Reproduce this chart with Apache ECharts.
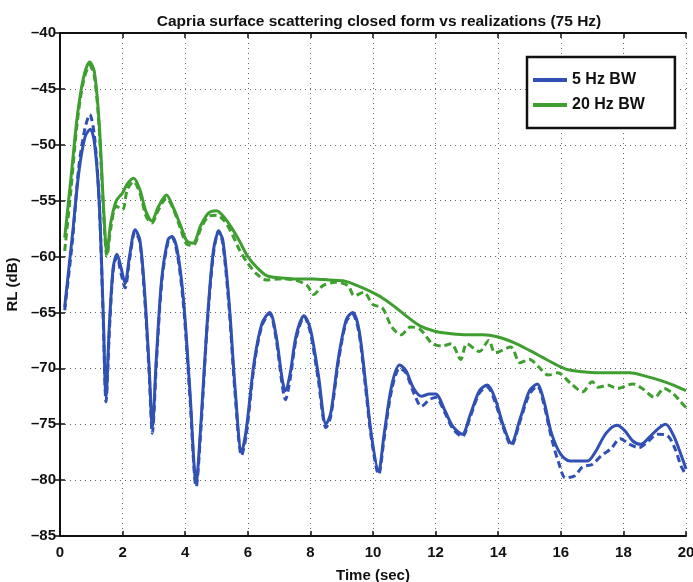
<!DOCTYPE html>
<html>
<head>
<meta charset="utf-8">
<script src="https://cdn.jsdelivr.net/npm/echarts@6/dist/echarts.min.js"></script>
<style>
  html, body { margin: 0; padding: 0; background: #fff; }
  #chart { width: 693px; height: 582px; }
</style>
</head>
<body>
<div id="chart"></div>
<script>
// 数据 - closed form (solid) and realizations (dashed), [time sec, RL dB]
var blueClosed = [[0.15,-64.5],[0.4,-58],[0.6,-52.5],[0.8,-49.3],[0.97,-48.6],[1.1,-49.8],[1.25,-55],[1.38,-65],[1.47,-72.5],[1.58,-66],[1.7,-61],[1.82,-59.8],[1.95,-61],[2.08,-62.4],[2.22,-60],[2.4,-57.6],[2.55,-58.5],[2.7,-63],[2.85,-70],[2.95,-75.2],[3.08,-69],[3.25,-62],[3.45,-58.5],[3.58,-58.2],[3.75,-59.5],[3.95,-64],[4.15,-72],[4.35,-80.2],[4.5,-75],[4.7,-66],[4.9,-59.5],[5.07,-57.8],[5.2,-58.5],[5.4,-64],[5.6,-72],[5.8,-77.5],[5.95,-75.5],[6.2,-69.5],[6.45,-66],[6.7,-65],[6.9,-67],[7.1,-71],[7.2,-72],[7.35,-70.5],[7.55,-67],[7.8,-65.3],[8.0,-66.5],[8.25,-70.5],[8.5,-75],[8.65,-74],[8.9,-69],[9.15,-65.6],[9.35,-65],[9.55,-66.5],[9.75,-71],[9.95,-76],[10.18,-79.2],[10.35,-76],[10.6,-71.5],[10.85,-69.7],[11.05,-70.2],[11.3,-71.8],[11.55,-72.5],[11.8,-72.3],[12.0,-72.3],[12.3,-73.8],[12.55,-75.2],[12.85,-75.9],[13.1,-74.2],[13.4,-72],[13.65,-71.5],[13.9,-72.7],[14.15,-75],[14.42,-76.7],[14.7,-74.5],[15.0,-72],[15.25,-71.4],[15.45,-72.8],[15.7,-75.8],[16.0,-77.7],[16.3,-78.3],[16.85,-78.3],[17.1,-77.5],[17.45,-75.8],[17.8,-75.1],[18.05,-75.6],[18.3,-76.5],[18.55,-76.8],[18.85,-76.1],[19.15,-75.3],[19.35,-75.0],[19.6,-76.0],[19.85,-77.8],[20,-79]];

var blueReal = [[0.15,-64.8],[0.4,-58.5],[0.6,-52],[0.8,-48.5],[0.95,-47.3],[1.1,-49.2],[1.25,-55],[1.38,-65.5],[1.47,-73],[1.58,-66.5],[1.7,-61.2],[1.82,-60],[1.95,-61.5],[2.08,-62.8],[2.22,-60.3],[2.4,-57.8],[2.55,-58.7],[2.7,-63.5],[2.85,-70.5],[2.95,-75.8],[3.08,-69.5],[3.25,-62.3],[3.45,-58.7],[3.58,-58.3],[3.75,-59.8],[3.95,-64.5],[4.15,-72.5],[4.35,-80.6],[4.5,-75.5],[4.7,-66.3],[4.9,-59.8],[5.07,-57.7],[5.2,-58.8],[5.4,-64.5],[5.6,-72.5],[5.8,-77.8],[5.95,-76],[6.2,-69.8],[6.45,-66.2],[6.7,-65.1],[6.9,-67.3],[7.1,-71.5],[7.2,-72.8],[7.35,-71],[7.55,-67.3],[7.8,-65.4],[8.0,-66.8],[8.25,-71],[8.5,-75.3],[8.65,-74.3],[8.9,-69.3],[9.15,-65.8],[9.35,-65.2],[9.55,-66.8],[9.75,-71.4],[9.95,-76.3],[10.18,-79.5],[10.35,-76.4],[10.6,-71.9],[10.85,-70.0],[11.05,-70.4],[11.3,-72.2],[11.55,-73.4],[11.8,-72.8],[12.0,-72.6],[12.3,-74.0],[12.55,-75.4],[12.85,-76.1],[13.1,-74.4],[13.4,-72.2],[13.65,-71.7],[13.9,-73.0],[14.15,-75.2],[14.42,-76.9],[14.7,-74.7],[15.0,-72.3],[15.25,-71.6],[15.45,-73.1],[15.7,-76.2],[15.95,-78.6],[16.15,-79.8],[16.45,-79.6],[16.7,-78.8],[17.0,-78.6],[17.3,-77.8],[17.6,-77.2],[17.9,-76.3],[18.2,-76.8],[18.5,-77.1],[18.8,-76.5],[19.1,-75.9],[19.4,-76.0],[19.65,-77.2],[19.85,-78.8],[20,-79.5]];

var greenClosed = [[0.15,-58.3],[0.35,-53],[0.55,-47.5],[0.75,-44],[0.95,-42.6],[1.1,-43.5],[1.25,-48],[1.4,-56],[1.5,-59.7],[1.62,-57],[1.8,-55],[2.0,-54.3],[2.15,-53.5],[2.35,-53],[2.55,-54],[2.75,-56],[2.93,-56.8],[3.15,-55.5],[3.4,-54.5],[3.6,-55.5],[3.85,-57.2],[4.05,-58.6],[4.25,-58.8],[4.5,-57.2],[4.75,-56.1],[5.0,-55.9],[5.25,-56.5],[5.5,-57.5],[5.75,-58.7],[6.0,-60],[6.3,-61],[6.6,-61.7],[7.0,-61.9],[7.5,-62],[8.1,-62],[8.6,-62.1],[9.1,-62.2],[9.5,-62.6],[9.9,-63.1],[10.3,-63.7],[10.7,-64.5],[11.1,-65.4],[11.5,-66.2],[12.0,-66.7],[12.5,-66.9],[13.0,-67],[13.5,-67],[14.0,-67.2],[14.5,-67.7],[15.0,-68.4],[15.4,-69],[15.8,-69.6],[16.2,-70.1],[16.7,-70.3],[17.2,-70.4],[17.7,-70.4],[18.2,-70.4],[18.7,-70.7],[19.2,-71.1],[19.6,-71.5],[20,-72]];

var greenReal = [[0.15,-59.5],[0.35,-54],[0.55,-48],[0.75,-44.3],[0.95,-42.9],[1.1,-43.9],[1.25,-48.5],[1.4,-56.5],[1.5,-60],[1.62,-57.5],[1.8,-55.5],[2.0,-55.8],[2.15,-54],[2.35,-53.3],[2.55,-54.3],[2.75,-56.4],[2.93,-57],[3.15,-55.8],[3.4,-54.8],[3.6,-55.6],[3.85,-57.5],[4.05,-58.9],[4.25,-59],[4.5,-57.5],[4.75,-56.4],[5.0,-56.3],[5.25,-56.8],[5.5,-58],[5.75,-59.5],[6.0,-60.6],[6.3,-61.6],[6.6,-62.1],[7.0,-62],[7.5,-62.1],[7.9,-62.6],[8.1,-63.4],[8.4,-62.6],[8.8,-62.3],[9.2,-62.6],[9.4,-63.5],[9.7,-63.2],[10.0,-64.3],[10.3,-64.6],[10.6,-66.3],[10.9,-67],[11.2,-66.3],[11.5,-66.5],[11.9,-67.8],[12.2,-68],[12.5,-67.8],[12.8,-69.2],[13.0,-67.8],[13.4,-68.5],[13.7,-67.5],[13.9,-68.6],[14.4,-68.1],[14.7,-69.5],[15.0,-69.2],[15.3,-69.9],[15.6,-70.6],[15.9,-70.4],[16.3,-71.3],[16.7,-72.1],[17.0,-71.2],[17.2,-71.7],[17.5,-71.5],[17.8,-71.8],[18.3,-71.4],[18.6,-71.8],[19.0,-72.6],[19.3,-71.8],[19.6,-72.3],[19.8,-72.9],[20,-73.5]];

var legendNames = ['5 Hz BW', '20 Hz BW'];
var xTicks = { min: 0, max: 20, interval: 2 };
var yTicks = { min: -85, max: -40, interval: 5 };

var blue = '#3050b4';
var green = '#3e9e30';
var font = 'Liberation Sans, Arial, sans-serif';

var chart = echarts.init(document.getElementById('chart'));

var gridLine = { show: true, lineStyle: { color: '#666', type: [1, 4], width: 1 } };
var axisLabelStyle = {
    color: '#111', fontSize: 15, fontWeight: 'bold', fontFamily: font,
    formatter: function (v) { return String(v).replace('-', '\u2013'); }
};
var frameLine = { show: true, lineStyle: { color: '#111', width: 2 } };
var frameTick = { show: true, inside: true, length: 5, lineStyle: { color: '#111', width: 1.5 } };
var nameStyle = { color: '#111', fontSize: 15, fontWeight: 'bold', fontFamily: font };

var option = {
    backgroundColor: '#fff',
    animation: false,
    title: {
        text: 'Capria surface scattering closed form vs realizations (75 Hz)',
        left: 374,
        textAlign: 'center',
        top: 9,
        textStyle: { color: '#111', fontSize: 15.5, fontWeight: 'bold', fontFamily: font }
    },
    legend: {
        data: legendNames,
        orient: 'vertical',
        left: 527,
        top: 57,
        padding: [15, 30, 15, 6],
        itemGap: 9,
        itemWidth: 34,
        itemHeight: 4,
        backgroundColor: '#fff',
        borderColor: '#111',
        borderWidth: 2.5,
        borderRadius: 0,
        icon: 'rect',
        textStyle: { color: '#111', fontSize: 16, fontWeight: 'bold', fontFamily: font }
    },
    grid: { left: 60, right: 7, top: 33, bottom: 46, containLabel: false, outerBoundsMode: 'none' },
    xAxis: [{
        type: 'value',
        min: xTicks.min, max: xTicks.max, interval: xTicks.interval,
        name: 'Time (sec)',
        nameLocation: 'middle',
        nameGap: 32,
        nameTextStyle: nameStyle,
        axisLine: frameLine,
        axisTick: frameTick,
        axisLabel: Object.assign({ margin: 9 }, axisLabelStyle),
        splitLine: gridLine
    }, {
        type: 'value', position: 'top',
        min: xTicks.min, max: xTicks.max, interval: xTicks.interval,
        axisLine: frameLine,
        axisTick: frameTick,
        axisLabel: { show: false },
        splitLine: { show: false }
    }],
    yAxis: [{
        type: 'value',
        min: yTicks.min, max: yTicks.max, interval: yTicks.interval,
        name: 'RL (dB)',
        nameLocation: 'middle',
        nameGap: 40,
        nameRotate: 90,
        nameTextStyle: nameStyle,
        axisLine: frameLine,
        axisTick: frameTick,
        axisLabel: Object.assign({ margin: 4 }, axisLabelStyle),
        splitLine: gridLine
    }, {
        type: 'value', position: 'right',
        min: yTicks.min, max: yTicks.max, interval: yTicks.interval,
        axisLine: frameLine,
        axisTick: frameTick,
        axisLabel: { show: false },
        splitLine: { show: false }
    }],
    series: [
        {
            name: '5 Hz BW realization', type: 'line', data: blueReal,
            showSymbol: false, smooth: 0.3,
            lineStyle: { color: blue, width: 3, type: [7, 4] }, itemStyle: { color: blue }
        },
        {
            name: '20 Hz BW realization', type: 'line', data: greenReal,
            showSymbol: false, smooth: 0.3,
            lineStyle: { color: green, width: 3, type: [7, 4] }, itemStyle: { color: green }
        },
        {
            name: legendNames[0], type: 'line', data: blueClosed,
            showSymbol: false, smooth: 0.3,
            lineStyle: { color: blue, width: 3 }, itemStyle: { color: blue }
        },
        {
            name: legendNames[1], type: 'line', data: greenClosed,
            showSymbol: false, smooth: 0.3,
            lineStyle: { color: green, width: 3 }, itemStyle: { color: green }
        }
    ]
};
chart.setOption(option);
</script>
</body>
</html>
